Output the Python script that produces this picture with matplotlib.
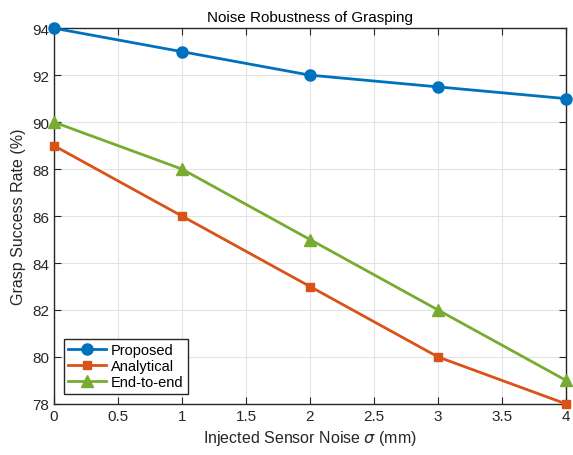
import matplotlib
matplotlib.use('Agg')
import matplotlib.pyplot as plt

plt.rcParams['font.family'] = ['Liberation Sans', 'DejaVu Sans']

noise = [0, 1, 2, 3, 4]
proposed = [94, 93, 92, 91.5, 91]
analytical = [89, 86, 83, 80, 78]
end_to_end = [90, 88, 85, 82, 79]

fig = plt.figure(figsize=(5.73, 4.56), dpi=100)
ax = fig.add_axes([0.094, 0.112, 0.894, 0.824])

ax.plot(noise, proposed, '-o', color='#0072BD', lw=2, ms=8, label='Proposed', clip_on=False, zorder=5)
ax.plot(noise, analytical, '-s', color='#D95319', lw=2, ms=6, label='Analytical', clip_on=False, zorder=4)
ax.plot(noise, end_to_end, '-^', color='#77AC30', lw=2, ms=8, label='End-to-end', clip_on=False, zorder=4)

ax.set_xlim(0, 4)
ax.set_ylim(78, 94)
ax.set_xticks([0, 0.5, 1, 1.5, 2, 2.5, 3, 3.5, 4])
ax.set_xticklabels(['0', '0.5', '1', '1.5', '2', '2.5', '3', '3.5', '4'])
ax.set_yticks(range(78, 95, 2))
ax.grid(True, color='#e3e3e3', lw=0.8)
ax.tick_params(direction='in', top=True, right=True, labelsize=11, colors='#262626', length=5)
for s in ax.spines.values():
    s.set_color('#262626')
    s.set_linewidth(1.0)

ax.set_title('Noise Robustness of Grasping', fontsize=11, color='#000000', pad=5)
ax.set_xlabel(r'Injected Sensor Noise $\sigma$ (mm)', fontsize=11.5, color='#262626')
ax.set_ylabel('Grasp Success Rate (%)', fontsize=11.5, color='#262626')

leg = ax.legend(loc='lower left', fontsize=10.5, fancybox=False, edgecolor='#262626',
                framealpha=1, borderaxespad=0.7, handlelength=2.6, borderpad=0.3,
                labelspacing=0.15, handletextpad=0.3)
leg.get_frame().set_linewidth(1.0)

fig.savefig('out.png', dpi=100)
